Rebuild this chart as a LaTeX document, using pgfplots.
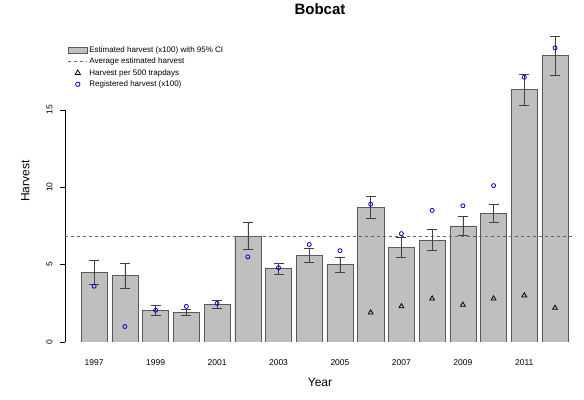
\documentclass[border=0pt]{standalone}
\usepackage{fontspec}
\setmainfont{Liberation Sans}
\usepackage{pgfplots}
\pgfplotsset{compat=1.18}
\begin{document}
\begin{tikzpicture}
\begin{axis}[
  scale only axis, width=510pt, height=322pt,
  xmin=1996.05, xmax=2012.65, ymin=0, ymax=20.8,
  axis lines*=left,
  x axis line style={draw=none}, y axis line style={draw=none},
  xtick={1997,1999,...,2011}, xtick style={draw=none},
  ytick={0,5,10,15}, ytick style={black}, major tick length=5pt, tick align=outside,
  yticklabel style={rotate=90, anchor=south, yshift=4pt},
  xticklabel style={yshift=-9pt},
  tick label style={font=\fontsize{8.5}{9}\selectfont},
  /pgf/number format/assume math mode=true,
  xticklabel style={/pgf/number format/1000 sep={}},
  xlabel={Year}, ylabel={Harvest},
  xlabel style={yshift=-6pt}, ylabel style={yshift=10pt},
  label style={font=\fontsize{12}{13}\selectfont},
  title={\textbf{Bobcat}}, title style={font=\fontsize{15}{16}\selectfont\bfseries, yshift=-4pt},
  legend style={draw=none, fill=none, at={(0.0,0.93)}, anchor=north west, font=\fontsize{8}{10}\selectfont, row sep=0pt},
  legend cell align=left,
  legend image post style={scale=1.1},
]
\draw[black] (axis cs:1996.05,0) -- (axis cs:1996.05,15);
\addplot[ybar, bar width=0.85, fill=black!25, draw=black!65, area legend,
  error bars/.cd, y dir=both, y explicit, error bar style={black!75, semithick}, error mark options={rotate=90,mark size=5pt,black!75, semithick}]
 coordinates {
 (1997,4.5) +- (0,0.8)
 (1998,4.3) +- (0,0.8)
 (1999,2.05) +- (0,0.35)
 (2000,1.9) +- (0,0.2)
 (2001,2.45) +- (0,0.25)
 (2002,6.85) +- (0,0.85)
 (2003,4.75) +- (0,0.35)
 (2004,5.6) +- (0,0.45)
 (2005,5.0) +- (0,0.5)
 (2006,8.7) +- (0,0.7)
 (2007,6.1) +- (0,0.65)
 (2008,6.6) +- (0,0.65)
 (2009,7.5) +- (0,0.6)
 (2010,8.3) +- (0,0.6)
 (2011,16.3) +- (0,1.0)
 (2012,18.5) +- (0,1.25)
 };
\addlegendentry{Estimated harvest (x100) with 95\% CI}
\addplot[dashed, black!60, forget plot] coordinates {(1996.05,6.85) (2012.65,6.85)};
\addlegendimage{dashed, black!60}
\addlegendentry{Average estimated harvest}
\addplot[only marks, mark=triangle, mark size=2.8pt, black, thick] coordinates {
 (2006,1.9) (2007,2.3) (2008,2.8) (2009,2.4) (2010,2.8) (2011,3.0) (2012,2.2)};
\addlegendentry{Harvest per 500 trapdays}
\addplot[only marks, mark=o, mark size=2pt, blue!80!black, thick] coordinates {
 (1997,3.6) (1998,1.0) (1999,2.05) (2000,2.3) (2001,2.5) (2002,5.5) (2003,4.8) (2004,6.3)
 (2005,5.9) (2006,8.9) (2007,7.0) (2008,8.5) (2009,8.8) (2010,10.1) (2011,17.1) (2012,19.0)};
\addlegendentry{Registered harvest (x100)}
\end{axis}
\pgfresetboundingbox
\path ([shift={(-65pt,-58pt)}]current axis.south west) rectangle ([shift={(9pt,20pt)}]current axis.north east);
\end{tikzpicture}
\end{document}
